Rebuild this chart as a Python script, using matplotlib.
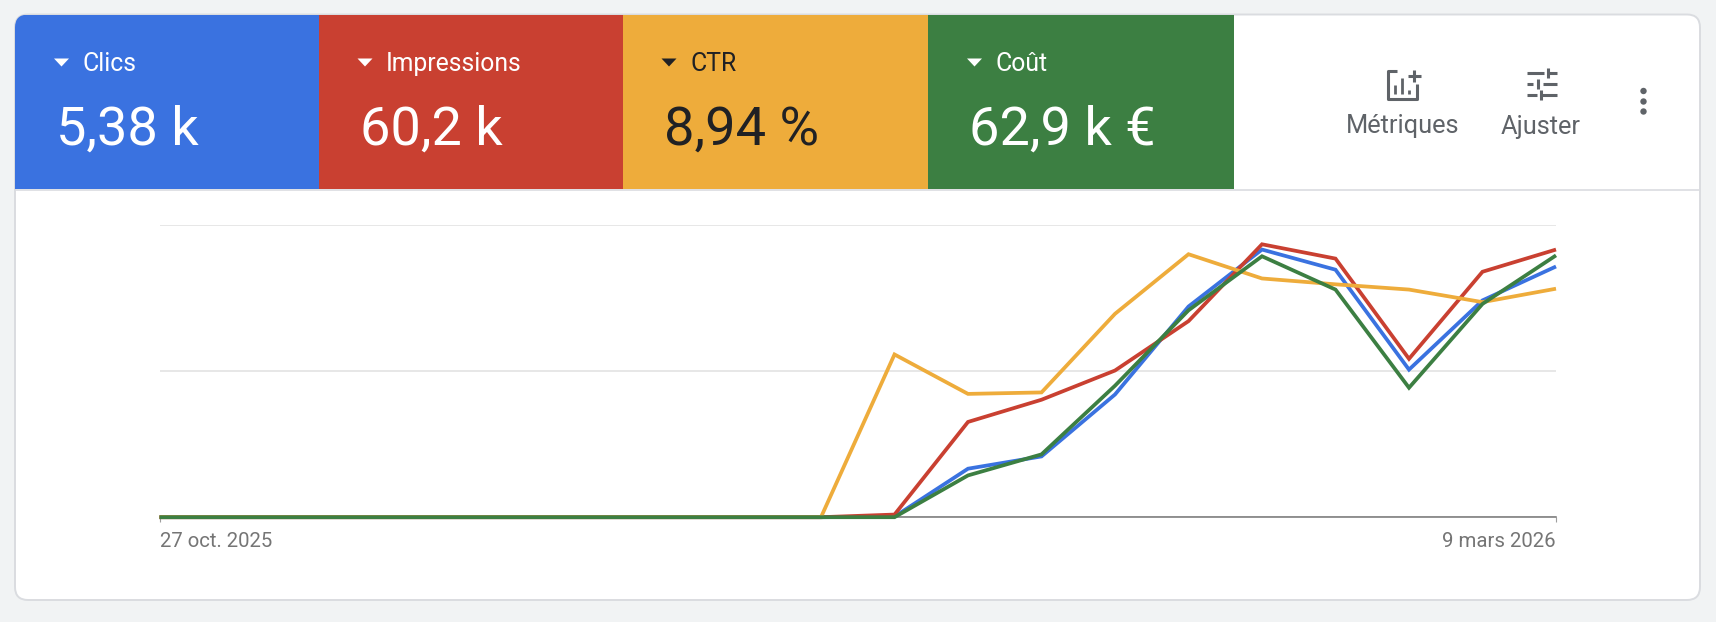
import pandas as pd
import matplotlib
matplotlib.use("Agg")
import matplotlib.pyplot as plt
from matplotlib.patches import FancyBboxPatch, Rectangle, Polygon, Circle

plt.rcParams['font.family'] = ['Roboto', 'DejaVu Sans']

# data (100 = top gridline)
weeks = pd.date_range("2025-10-27", "2026-03-09", freq="7D")
clics = [0, 0, 0, 0, 0, 0, 0, 0, 0, 0, 0.2, 16.6, 20.8, 42.0, 72.1, 91.6, 84.7, 50.5, 74.2, 85.8]
impressions = [0, 0, 0, 0, 0, 0, 0, 0, 0, 0, 0.9, 32.6, 40.2, 50.2, 67.1, 93.4, 88.5, 54.2, 84.0, 91.6]
ctr = [0, 0, 0, 0, 0, 0, 0, 0, 0, 0, 55.7, 42.2, 42.7, 69.6, 90.0, 81.7, 79.7, 77.9, 73.6, 78.2]
cout = [0, 0, 0, 0, 0, 0, 0, 0, 0, 0, 0, 14.3, 21.5, 45.0, 70.8, 89.3, 77.9, 44.3, 73.0, 89.6]

names = ["Clics", "Impressions", "CTR", "Coût"]
totals = ["5,38 k", "60,2 k", "8,94 %", "62,9 k €"]
colors = ["#3a72e0", "#c94031", "#eeac3b", "#3c7f42"]
text_colors = ["white", "white", "#202124", "white"]
tick_labels = ["27 oct. 2025", "9 mars 2026"]
yticks = [0, 50, 100]

W, H = 1716, 622
fig = plt.figure(figsize=(W / 100, H / 100), dpi=100, facecolor="#f1f3f4")

# page layer in pixel coordinates
bg = fig.add_axes([0, 0, 1, 1])
bg.set_xlim(0, W)
bg.set_ylim(H, 0)
bg.axis("off")

card = FancyBboxPatch((15, 14.5), 1685, 585.5, boxstyle="round,pad=0,rounding_size=13",
                      fc="white", ec="#dadce0", lw=1.4, zorder=1)
bg.add_patch(card)

# metric tiles
edges = [15, 318.5, 622.5, 928, 1234]
for i in range(4):
    r = Rectangle((edges[i], 15), edges[i + 1] - edges[i], 174, fc=colors[i], ec="none", zorder=2)
    bg.add_patch(r)
    r.set_clip_path(card)
    x0 = edges[i]
    tc = text_colors[i]
    bg.add_patch(Polygon([(x0 + 39, 58.5), (x0 + 54, 58.5), (x0 + 46.5, 66.5)], fc=tc, ec="none", zorder=3))
    bg.text(x0 + 67.5, 64, names[i], color=tc, fontsize=17.8, va="center", ha="left", zorder=3)
    bg.text(x0 + 41, 130.5, totals[i], color=tc, fontsize=39, va="center", ha="left", zorder=3)

bg.plot([15, 1700], [189.5, 189.5], color="#dadce0", lw=1.2, zorder=3)

# right hand buttons
grey = "#5f6368"
bg.text(1403, 126.5, "Métriques", color=grey, fontsize=18.3, ha="center", va="center")
bg.text(1541, 127, "Ajuster", color=grey, fontsize=18.3, ha="center", va="center")

# metrics icon
bg.plot([1397, 1388, 1388, 1417, 1417], [70.5, 70.5, 98.5, 98.5, 84], color=grey, lw=2.2, solid_capstyle="butt")
for bx, top in [(1395, 85), (1402, 78), (1409, 90)]:
    bg.plot([bx, bx], [top, 94], color=grey, lw=2, solid_capstyle="butt")
bg.plot([1408, 1421], [76, 76], color=grey, lw=2.2, solid_capstyle="butt")
bg.plot([1414, 1414], [70, 82], color=grey, lw=2.2, solid_capstyle="butt")

# adjust icon
for y, x1, x2 in [(73, 1527, 1544), (84, 1527, 1533), (84, 1543, 1557), (95, 1527, 1537)]:
    bg.plot([x1, x2], [y, y], color=grey, lw=2.2, solid_capstyle="butt")
bg.plot([1548, 1557], [73, 73], color=grey, lw=2.2, solid_capstyle="butt")
bg.plot([1541, 1557], [95, 95], color=grey, lw=2.2, solid_capstyle="butt")
for x, y1, y2 in [(1548, 68, 78), (1538, 79, 89), (1541, 90, 100)]:
    bg.plot([x, x], [y1, y2], color=grey, lw=2.2, solid_capstyle="butt")

# three dots
for y in [91, 101.5, 111.5]:
    bg.add_patch(Circle((1643.5, y), 3.2, fc=grey, ec="none"))

# chart
left, right, top, bottom = 159.5, 1556, 225, 517.2
ax = fig.add_axes([left / W, 1 - bottom / H, (right - left) / W, (bottom - top) / H])
ax.patch.set_alpha(0)
ax.set_xlim(weeks[0], weeks[-1])
ax.set_ylim(0, 100)

series = [clics, impressions, ctr, cout]
for s, c in zip(series, colors):
    ax.plot(weeks, s, color=c, lw=2.7, clip_on=False, solid_joinstyle="miter", solid_capstyle="butt", zorder=3)

ax.set_yticks(yticks)
ax.set_yticklabels([])
ax.tick_params(axis="y", length=0)
ax.grid(axis="y", color="#e0e0e0", lw=1.1)
ax.set_axisbelow(True)
for side in ["top", "left", "right"]:
    ax.spines[side].set_visible(False)
ax.spines["bottom"].set_color("#757575")
ax.spines["bottom"].set_linewidth(1.1)

ax.set_xticks([weeks[0], weeks[-1]])
ax.set_xticklabels(tick_labels, fontsize=14.7, color="#757575")
ax.tick_params(axis="x", length=3.5, width=0.8, color="#9e9e9e", pad=7)
ax.get_xticklabels()[0].set_ha("left")
ax.get_xticklabels()[1].set_ha("right")

fig.savefig("out.png", dpi=100, facecolor=fig.get_facecolor())
